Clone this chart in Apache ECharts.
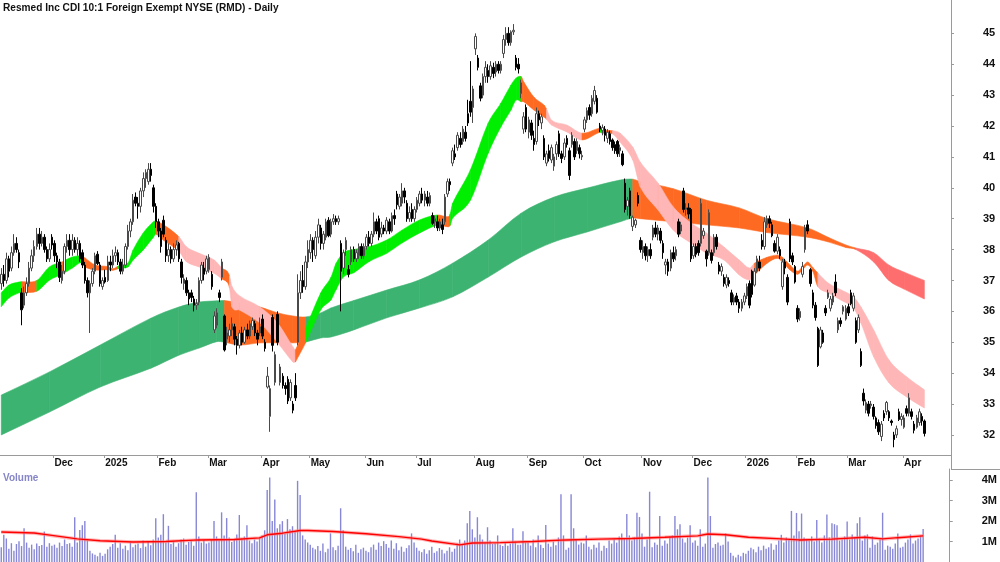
<!DOCTYPE html>
<html>
<head>
<meta charset="utf-8">
<script src="https://cdn.jsdelivr.net/npm/echarts@6/dist/echarts.min.js"></script>
<style>
html,body{margin:0;padding:0;background:#fff;}
#chart{width:1000px;height:562px;}
</style>
</head>
<body>
<div id="chart"></div>
<script>
// ---------- DATA ----------
const titleText = 'Resmed Inc CDI 10:1 Foreign Exempt NYSE (RMD) - Daily';
const monthLabels = ['Nov','Dec','2025','Feb','Mar','Apr','May','Jun','Jul','Aug','Sep','Oct','Nov','Dec','2026','Feb','Mar','Apr'];
const monthDays   = [21,20,21,20,21,19,22,20,23,21,22,23,20,21,20,20,22,9];
const priceTicks  = [32,33,34,35,36,37,38,39,40,41,42,43,44,45];
const volumeTicks = [1,2,3,4];

// daily candles: [open, close, low, high]
const candles = [
// Nov 2024
[36.9,37.2,36.7,37.4],[37.2,37.0,36.8,37.5],[37.0,37.7,36.9,37.9],[37.7,37.3,37.1,37.8],[37.4,37.9,37.3,38.1],
[37.9,38.2,37.8,38.5],[38.2,38.0,37.9,38.4],[37.9,37.6,37.4,38.0],[36.6,36.05,35.55,36.75],[36.2,36.6,36.1,36.8],
[36.6,36.9,36.5,37.1],[36.9,37.4,36.8,37.6],[37.4,37.8,37.3,38.0],[37.8,38.1,37.6,38.3],[38.1,38.5,38.0,38.7],
[38.5,38.2,38.0,38.7],[38.2,38.4,38.1,38.6],[38.4,38.0,37.9,38.5],[38.0,37.7,37.6,38.1],[37.7,38.0,37.6,38.2],
[38.4,38.15,38.0,38.5],
// Dec 2024
[38.2,37.8,37.6,38.3],[37.8,37.6,37.4,37.9],[37.6,37.1,36.95,37.7],[37.0,37.3,36.9,37.5],[37.3,38.1,37.2,38.2],
[38.1,38.3,37.9,38.5],[38.3,38.0,37.8,38.5],[38.0,38.3,37.8,38.5],[38.3,38.0,37.9,38.4],[38.0,38.2,37.8,38.4],
[38.2,37.7,37.6,38.3],[37.9,37.5,37.4,38.0],[37.5,37.0,36.9,37.6],[37.0,36.6,36.45,37.1],[36.6,36.9,35.3,37.0],
[36.9,37.3,36.8,37.4],[37.3,37.8,37.2,37.9],[37.85,37.55,37.5,37.95],[37.5,36.9,36.8,37.6],[36.8,37.0,36.7,37.1],
// Jan 2025
[37.1,36.95,36.9,37.35],[37.0,37.6,36.95,37.8],[37.6,37.5,37.3,37.8],[37.5,37.8,37.4,38.0],[37.8,37.9,37.6,38.1],
[37.9,37.6,37.5,38.0],[37.6,37.3,37.2,37.7],[37.3,37.5,37.2,37.7],[37.5,38.1,37.4,38.2],[38.1,38.6,38.0,38.8],
[38.6,38.9,38.4,39.0],[38.9,39.6,38.8,39.8],[39.7,39.5,39.4,39.85],[39.5,39.4,39.0,39.7],[39.4,39.9,39.2,40.0],
[39.9,40.3,39.7,40.5],[40.3,40.5,40.0,40.6],[40.2,40.6,40.1,40.8],[40.6,40.4,40.2,40.8],[40.0,39.4,39.2,40.1],
[39.4,38.9,38.7,39.5],
// Feb 2025
[38.9,38.6,38.4,39.0],[38.6,38.1,37.9,38.7],[38.95,38.5,38.4,39.1],[38.3,37.8,37.6,38.4],[37.8,38.0,37.6,38.2],
[38.0,37.7,37.55,38.1],[37.7,38.0,37.6,38.2],[38.0,38.15,37.8,38.3],[38.2,37.7,37.6,38.25],[37.6,37.1,36.9,37.7],
[36.9,37.05,36.7,37.2],[37.0,36.6,36.5,37.1],[36.6,36.4,36.2,36.7],[36.6,36.45,36.3,36.7],[36.4,36.2,36.0,36.5],
[36.2,36.25,36.05,36.4],[36.3,37.0,36.2,37.1],[37.0,37.5,36.9,37.6],[37.4,37.2,37.0,37.6],[37.3,37.7,37.2,37.8],
// Mar 2025
[37.35,37.75,37.25,37.85],[37.2,36.8,36.7,37.3],[35.4,35.85,35.3,36.0],[35.55,35.95,35.45,36.1],[36.6,36.45,36.3,36.7],
[37.1,37.6,37.0,37.7],[35.85,34.75,34.7,35.9],[35.1,35.3,34.9,35.5],[35.2,35.4,35.0,35.6],[35.4,35.6,35.2,35.8],
[35.5,35.1,34.9,35.6],[35.1,34.9,34.6,35.2],[34.9,35.3,34.8,35.4],[35.3,35.0,34.9,35.5],[35.0,35.4,34.95,35.5],
[35.4,35.2,35.1,35.6],[35.2,35.6,35.1,35.7],[35.5,35.7,35.4,35.8],[35.6,35.3,35.2,35.7],[35.3,35.1,34.9,35.4],
[35.3,35.5,35.2,35.8],
// Apr 2025
[35.75,35.2,35.1,35.9],[35.0,34.8,34.7,35.1],[33.55,33.9,33.5,34.2],[32.6,33.5,32.1,33.6],[35.8,34.9,34.7,35.9],
[33.7,34.6,33.6,34.7],[35.9,35.0,34.9,36.0],[33.7,34.2,33.6,34.3],[33.9,33.6,33.5,34.0],[33.6,33.5,33.3,33.7],
[33.8,33.1,33.0,33.9],[33.2,33.7,33.1,33.8],[33.0,32.8,32.7,33.1],[33.6,33.2,33.1,34.0],[35.0,36.6,34.9,37.2],
[36.6,37.0,36.4,37.3],[37.0,36.8,36.6,37.5],[36.8,37.6,36.7,37.8],[37.6,38.0,37.4,38.3],
// May 2025
[37.9,38.3,37.7,38.5],[38.3,38.0,37.6,38.4],[37.8,38.4,37.7,38.6],[38.4,38.8,38.2,39.0],[38.7,38.2,38.0,38.8],
[38.2,38.5,38.0,38.6],[38.4,38.9,38.3,39.0],[38.95,38.45,38.4,39.05],[38.5,38.9,38.4,39.0],[38.9,39.0,38.8,39.15],
[39.0,38.9,38.8,39.1],[38.9,39.0,38.8,39.1],[38.2,37.3,36.0,38.3],[37.4,37.9,37.2,38.0],[38.0,38.3,37.8,38.4],
[37.35,37.2,37.1,37.5],[37.6,38.0,37.5,38.1],[38.0,37.7,37.6,38.1],[37.7,37.9,37.6,38.0],[37.8,38.1,37.7,38.2],
[38.1,37.8,37.7,38.2],[37.8,38.1,37.7,38.2],
// Jun 2025
[38.1,38.4,38.0,38.5],[38.4,38.2,38.1,38.6],[38.2,38.5,38.1,38.6],[38.5,38.9,38.4,39.2],[38.9,38.6,38.5,39.0],
[39.0,38.4,38.3,39.1],[38.5,38.7,38.4,38.9],[38.7,38.6,38.5,38.8],[38.6,38.95,38.5,39.05],[38.9,38.6,38.5,39.0],
[38.6,39.1,38.55,39.2],[39.1,39.0,38.8,39.3],[39.8,39.45,39.3,39.9],[39.4,39.7,39.3,39.8],[39.5,39.9,39.4,40.15],
[39.9,39.7,39.5,40.0],[39.5,39.0,38.9,39.6],[39.0,39.2,38.9,39.4],[39.3,39.0,38.9,39.5],[39.0,39.3,38.9,39.4],
// Jul 2025
[39.3,39.6,39.2,39.7],[39.5,39.8,39.4,39.9],[39.8,39.6,39.5,40.0],[39.6,39.8,39.4,39.9],[39.7,39.5,39.4,39.9],
[39.5,39.75,39.4,39.85],[39.1,38.85,38.8,39.2],[38.9,39.0,38.7,39.1],[38.9,38.7,38.6,39.1],[38.7,38.9,38.6,39.0],
[38.8,38.65,38.5,39.0],[38.9,39.7,38.8,39.8],[39.8,40.2,39.7,40.3],[40.2,40.1,39.9,40.3],[40.8,41.2,40.7,41.3],
[41.1,41.0,40.9,41.4],[41.3,41.7,41.2,41.8],[41.6,41.4,41.3,41.8],[41.5,41.9,41.4,42.0],[41.8,41.6,41.5,42.0],
[42.4,42.1,42.0,42.85],[42.8,42.45,42.3,44.1],[42.6,43.2,42.1,43.3],
// Aug 2025
[44.5,44.9,44.3,45.0],[44.2,43.9,43.8,44.3],[43.3,42.9,42.8,43.4],[43.0,43.6,42.9,43.7],[43.6,43.9,43.4,44.1],
[43.8,43.6,43.4,44.0],[43.6,43.95,43.5,44.1],[43.9,43.7,43.55,44.05],[43.75,44.0,43.6,44.1],[44.0,43.8,43.7,44.1],
[43.8,44.0,43.7,44.1],[44.35,44.8,44.2,44.95],[44.8,45.0,44.6,45.2],[45.0,44.7,44.6,45.2],[44.7,45.05,44.6,45.1],
[45.05,45.1,44.95,45.3],[44.2,43.9,43.8,44.3],[44.0,43.85,43.7,44.2],[43.05,43.4,42.9,43.5],[41.9,42.3,41.75,42.45],
[42.6,41.9,41.8,42.7],
// Sep 2025
[41.8,42.2,41.6,42.3],[42.1,41.7,41.55,42.2],[41.6,41.4,41.2,41.85],[41.5,42.4,41.4,42.6],[42.4,42.2,42.0,42.5],
[42.1,42.3,41.9,42.4],[41.6,41.0,40.9,41.7],[40.8,41.1,40.7,41.2],[41.2,40.95,40.85,41.4],[40.9,41.3,40.8,41.4],
[40.7,41.0,40.55,41.1],[41.1,41.4,40.9,41.5],[41.75,41.1,41.0,41.85],[41.1,40.95,40.8,41.2],[41.0,41.45,40.9,41.6],
[41.6,41.4,41.3,41.7],[41.2,40.4,40.25,41.3],[41.4,41.7,41.3,41.8],[41.5,41.0,40.9,41.6],[41.2,41.5,41.1,41.6],
[41.3,41.1,40.95,41.4],[41.0,41.05,40.9,41.2],
// Oct 2025
[41.9,42.2,41.8,42.3],[42.2,42.5,42.1,42.6],[42.6,42.35,42.2,42.7],[42.4,42.9,42.3,43.0],[42.8,43.15,42.7,43.3],
[42.9,42.45,42.4,43.0],[42.0,41.9,41.8,42.1],[41.85,41.95,41.7,42.05],[41.9,41.7,41.5,42.0],[41.6,41.8,41.45,41.9],
[41.75,41.5,41.4,41.85],[41.55,41.3,41.2,41.6],[41.4,41.2,41.1,41.5],[41.5,41.1,41.0,41.55],[41.2,41.3,41.0,41.4],
[41.1,40.75,40.7,41.2],[40.15,39.3,39.2,40.3],[39.4,39.6,39.1,39.7],[39.9,39.1,39.0,40.0],[38.75,39.05,38.6,39.1],
[38.8,38.95,38.7,39.0],[39.75,39.5,39.4,39.85],[38.3,38.0,37.9,38.4],
// Nov 2025
[37.9,38.1,37.7,38.3],[38.1,37.8,37.65,38.2],[37.8,38.0,37.6,38.1],[38.0,37.8,37.7,38.2],[38.4,38.7,38.3,38.8],
[38.7,38.5,38.4,38.9],[38.5,38.7,38.3,38.8],[38.6,38.3,38.2,38.7],[38.2,37.9,37.7,38.3],[37.5,37.6,37.2,37.7],
[37.6,37.3,37.15,37.7],[37.4,37.9,37.3,38.0],[37.9,37.7,37.6,38.1],[37.8,38.0,37.65,38.1],[38.9,38.5,38.4,39.0],
[38.6,38.8,38.5,38.9],[39.9,39.3,39.2,40.0],[39.3,39.35,39.1,39.5],[39.35,39.15,39.0,39.5],[39.3,37.7,37.6,39.35],
// Dec 2025
[37.8,38.1,37.7,38.2],[38.1,37.85,37.75,38.2],[38.2,37.9,37.8,38.3],[38.2,39.5,38.1,39.65],[38.45,38.6,38.35,38.7],
[37.95,37.7,37.45,38.0],[37.9,39.2,37.8,39.3],[37.9,37.65,37.55,38.0],[37.9,38.4,37.8,38.5],[38.4,38.1,38.0,38.5],
[37.5,37.3,37.2,37.6],[37.3,37.45,37.15,37.55],[37.1,36.9,36.8,37.2],[36.85,37.1,36.75,37.2],[37.0,36.9,36.8,37.1],
[36.6,36.3,36.2,36.7],[36.3,36.45,36.2,36.55],[36.5,36.3,36.2,36.6],[36.3,36.1,35.95,36.4],[36.1,36.3,36.0,36.4],
[36.3,36.5,36.2,36.6],
// Jan 2026
[36.5,36.8,36.4,36.9],[36.9,36.2,36.1,37.0],[37.3,36.55,36.45,37.35],[36.85,37.3,36.8,37.4],[37.3,37.7,37.25,37.8],
[37.6,37.4,37.3,37.8],[38.3,38.1,38.0,38.5],[38.1,38.9,38.0,39.05],[38.8,39.0,38.7,39.1],[39.0,38.85,38.7,39.1],
[38.8,38.45,38.4,38.9],[38.2,37.95,37.9,38.3],[37.95,38.4,37.85,38.5],[38.0,37.8,37.7,38.1],[36.8,37.6,36.7,37.7],
[37.6,37.4,37.2,37.7],[37.1,36.3,36.2,37.2],[38.9,37.7,37.6,39.0],[37.8,37.6,37.5,37.9],[37.45,36.95,36.9,37.5],
// Feb 2026
[36.1,35.75,35.65,36.2],[35.8,36.0,35.7,36.1],[37.2,37.45,37.1,37.6],[38.0,38.7,37.9,38.8],[38.8,38.6,38.5,38.95],
[37.35,36.9,36.8,37.4],[36.6,36.2,36.1,36.7],[36.2,35.8,35.7,36.3],[35.45,34.25,34.2,35.5],[34.85,35.4,34.8,35.5],
[35.3,35.0,34.95,35.4],[36.1,35.95,35.85,36.2],[36.45,36.6,36.4,36.7],[36.1,36.4,36.0,36.5],[36.3,36.5,36.2,36.6],
[36.95,36.6,36.5,37.2],[35.4,35.7,35.3,35.8],[35.7,35.6,35.5,35.8],[36.0,36.15,35.9,36.2],[35.75,36.1,35.7,36.2],
// Mar 2026
[36.15,35.95,35.85,36.25],[36.6,36.25,36.2,36.7],[36.1,36.5,36.0,36.6],[35.7,35.0,34.95,35.8],[35.4,35.8,35.3,35.9],
[34.7,34.25,34.2,34.8],[33.35,33.1,32.95,33.5],[32.8,33.05,32.7,33.15],[33.0,32.7,32.6,33.1],[32.95,33.0,32.85,33.1],
[32.9,32.6,32.5,33.0],[32.55,32.3,32.2,32.6],[32.4,32.1,32.0,32.5],[31.95,32.35,31.8,32.45],[32.7,32.55,32.45,32.8],
[32.75,33.05,32.65,33.1],[32.75,32.55,32.45,32.8],[32.45,32.4,32.3,32.5],[32.0,31.85,31.6,32.1],[32.0,32.2,31.9,32.3],
[32.75,32.5,32.45,32.85],[32.5,32.6,32.3,32.7],
// Apr 2026
[32.25,32.55,32.2,32.65],[32.85,32.7,32.6,32.95],[32.7,33.2,32.6,33.35],[32.75,32.6,32.5,32.85],[32.35,32.15,32.05,32.45],
[32.25,32.55,32.2,32.65],[32.4,32.75,32.3,32.85],[32.6,32.45,32.3,32.7],[32.45,32.05,31.95,32.5]
];

// daily volume, millions
const volumes = [
0.72,1.33,1.15,0.65,0.92,0.55,0.88,1.02,0.78,1.65,0.95,0.70,0.85,0.62,0.90,0.78,0.83,1.49,0.75,0.92,0.80,
0.85,0.70,0.95,0.78,1.10,0.88,0.92,0.75,2.19,0.95,1.56,1.80,2.00,1.05,0.55,0.42,0.35,0.28,0.45,0.30,
0.40,0.62,0.75,0.88,1.33,0.70,0.92,0.65,0.80,0.58,0.95,0.72,0.85,0.90,0.68,1.05,0.75,0.98,0.82,1.10,2.14,
1.20,1.33,2.34,0.95,1.77,0.88,1.02,0.75,0.92,1.10,1.15,0.85,0.98,1.05,0.80,3.41,1.25,0.95,1.08,0.90,
0.95,1.10,2.01,1.25,1.05,2.43,1.30,2.15,1.20,0.98,1.10,1.35,2.30,1.15,1.25,1.80,1.05,0.92,1.10,1.00,1.20,
1.30,1.55,3.52,4.14,2.00,3.06,1.65,1.85,2.00,1.40,2.10,1.60,1.75,1.50,3.97,3.28,1.30,1.10,0.95,
0.85,0.70,0.62,0.78,0.55,0.90,0.48,0.65,1.40,0.72,0.58,0.80,2.63,1.55,0.75,0.60,0.68,0.52,0.85,0.45,0.62,0.70,
0.55,0.48,0.72,0.85,0.60,0.95,0.78,1.02,0.88,0.70,1.05,0.65,0.92,0.58,0.75,0.50,0.68,0.82,1.40,0.95,
0.70,0.55,0.48,0.62,0.40,0.58,0.75,0.45,0.52,0.68,0.60,0.42,0.55,0.72,0.50,0.65,0.92,1.10,0.85,1.05,1.90,2.50,1.60,
1.20,2.19,1.35,1.10,0.95,1.70,1.05,0.88,0.92,1.30,0.85,0.78,0.95,0.80,0.90,1.65,1.00,0.85,0.85,1.50,0.95,
0.95,0.80,1.10,0.72,1.30,0.85,0.68,1.81,0.90,0.75,1.00,0.82,1.20,3.31,1.30,0.60,0.70,3.31,1.65,1.10,0.85,0.95,
0.90,1.30,0.75,0.62,0.85,0.70,0.95,0.55,0.80,0.68,1.05,0.90,1.10,0.95,1.25,1.40,1.15,2.35,1.30,1.05,1.20,2.41,2.20,
1.40,0.75,1.10,3.44,0.72,0.95,0.85,2.25,0.80,1.05,0.90,1.25,1.30,2.25,1.60,1.85,1.15,0.95,1.20,1.80,
0.95,1.05,0.80,1.60,0.75,0.90,4.14,2.25,0.70,0.88,0.95,0.80,0.85,1.40,1.00,0.45,0.30,0.22,0.35,0.28,0.45,
0.40,0.55,0.70,0.62,0.48,0.75,0.58,0.80,0.65,0.72,0.90,0.60,0.85,1.05,1.33,0.95,1.20,1.10,2.50,1.30,
2.40,1.50,2.37,1.20,1.10,1.05,1.25,1.00,2.06,1.15,0.95,1.30,2.33,1.20,1.90,1.85,1.80,1.05,1.10,1.25,
1.98,1.10,1.35,1.20,1.90,2.19,1.05,1.30,1.35,0.70,1.25,0.85,0.95,1.10,2.41,0.60,0.80,0.75,0.65,0.90,1.40,0.70,
0.75,0.95,1.10,1.35,0.90,1.05,1.15,1.30,1.62
];

// volume moving average, read at [day index, millions]
const volumeMA = [
[0,1.47],[13,1.42],[20,1.30],[30,1.13],[39,1.04],[52,0.98],[65,1.00],[78,1.08],[92,1.10],[102,1.18],
[105,1.33],[111,1.41],[118,1.54],[121,1.54],[131,1.49],[144,1.38],[157,1.24],[166,1.12],[170,1.03],
[181,0.84],[186,0.93],[197,0.95],[210,1.00],[223,1.08],[236,1.12],[249,1.15],[262,1.21],[275,1.28],
[279,1.37],[286,1.33],[295,1.21],[308,1.13],[315,1.08],[328,1.12],[341,1.21],[348,1.13],[354,1.19],[364,1.28]
];

// slow trend ribbon: [day index, lower, upper, state]  G=rising O=flat R=falling
const slowRibbon = [
[0,32.00,33.29,'G'],[19,32.74,34.04,'G'],[39,33.55,34.91,'G'],[59,34.16,35.78,'G'],[70,34.58,36.14,'G'],
[78,34.81,36.30,'G'],[85,35.02,36.34,'G'],[88,35.00,36.35,'O'],[94,34.91,36.27,'O'],[102,34.98,36.14,'O'],
[109,34.98,35.95,'O'],[115,34.98,35.85,'O'],[120,35.01,35.82,'G'],[126,35.14,35.95,'G'],[130,35.17,36.11,'G'],
[139,35.40,36.35,'G'],[152,35.79,36.69,'G'],[165,36.11,37.02,'G'],[178,36.47,37.56,'G'],[192,37.11,38.31,'G'],
[205,37.76,39.18,'G'],[218,38.25,39.70,'G'],[231,38.57,39.99,'G'],[244,38.90,40.25,'G'],[249,39.02,40.28,'O'],
[252,39.00,40.20,'O'],[265,38.90,39.97,'O'],[278,38.80,39.60,'O'],[291,38.70,39.35,'O'],[302,38.55,39.00,'O'],
[318,38.40,38.70,'O'],[326,38.25,38.40,'O'],[333,38.07,38.15,'O'],[337,38.00,38.05,'R'],[344,37.60,37.90,'R'],
[350,37.00,37.50,'R'],[356,36.72,37.27,'R'],[364,36.40,37.00,'R']
];

// fast trend ribbon: [day index, lower, upper, state]  g=rising o=flat p=falling ; 5th item 1 = sharp corner
const fastRibbon = [
[0,36.15,36.60,'g'],[3,36.43,36.85,'g'],[7,36.60,36.95,'g'],[8,36.62,36.96,'o'],[14,36.65,37.00,'g'],
[19,37.01,37.44,'g'],[24,37.20,37.60,'o'],[25,37.25,37.65,'g'],[28,37.40,37.76,'g'],[31,37.57,37.80,'g'],
[32,37.55,37.78,'o'],[33,37.44,37.73,'o'],[37,37.34,37.50,'o'],[42,37.35,37.45,'o'],[44,37.33,37.38,'o'],
[46,37.38,37.46,'g'],[47,37.40,37.50,'g'],[50,37.44,37.57,'g'],[52,37.66,37.99,'g'],[56,37.99,38.54,'g'],
[60,38.40,38.90,'g'],[61,38.50,38.92,'o'],[64,38.30,38.80,'o'],[70,37.95,38.42,'p'],[73,37.61,38.09,'p'],
[78,37.44,37.88,'p'],[84,37.23,37.66,'p'],[87,37.05,37.40,'o'],[89,36.95,37.30,'o'],[90,36.75,37.15,'p'],
[91,36.14,36.80,'p'],[94,36.04,36.50,'p'],[102,35.62,36.14,'p'],[109,34.98,35.62,'p'],[115,34.36,34.85,'p'],
[116,34.36,34.75,'o',1],[120,34.98,35.45,'g'],[126,36.05,36.60,'g'],[130,36.37,37.10,'g'],[132,36.70,37.55,'g'],
[135,37.12,37.90,'g'],[139,37.25,38.00,'g'],[145,37.61,38.09,'g'],[152,37.88,38.31,'g'],[158,38.21,38.63,'g'],
[165,38.54,38.96,'g'],[172,38.79,39.12,'o'],[176,38.74,39.06,'o'],[177,38.78,39.15,'g'],[178,39.02,39.50,'g'],
[185,39.60,40.58,'g'],[192,41.12,42.09,'g'],[197,41.97,42.74,'g'],[201,42.52,43.33,'g'],[203,42.84,43.55,'g'],
[205,42.79,43.60,'o'],[206,42.79,43.43,'o'],[210,42.52,42.94,'o'],[214,42.29,42.68,'o'],[215,42.22,42.55,'p'],
[217,42.03,42.19,'p'],[223,41.81,42.03,'p'],[229,41.55,41.77,'o'],[236,41.80,41.93,'g'],[237,41.77,41.87,'o'],
[241,41.75,41.85,'p'],[244,41.48,41.77,'p'],[249,40.90,41.32,'p'],[252,40.03,40.83,'p'],[259,39.28,40.15,'p'],
[265,38.63,39.38,'p'],[272,38.21,38.86,'p'],[278,37.89,38.54,'p'],[285,37.66,38.08,'p'],[291,37.18,37.66,'p'],
[295,37.02,37.40,'p'],[297,37.18,37.56,'o'],[302,37.56,37.75,'o'],[306,37.72,37.82,'o'],[308,37.60,37.75,'o'],
[311,37.34,37.50,'o'],[314,37.20,37.30,'o'],[316,37.35,37.45,'o'],[318,37.50,37.60,'o'],[320,37.30,37.42,'o'],
[322,36.80,37.24,'p'],[326,36.60,36.92,'p'],[331,36.37,36.70,'p'],[336,36.11,36.47,'p'],[339,35.62,36.14,'p'],
[344,34.53,35.40,'p'],[350,33.69,34.43,'p'],[357,33.23,33.88,'p'],[364,32.87,33.46,'p']
];

// ---------- STYLE ----------
const ribbonColors = {
  G:'#3cb371', O:'#ff6a22', R:'#ff6e6e',
  g:'#00ee00', o:'#ff6a22', p:'#ffb6b6'
};
const FONT = '"Liberation Sans", Arial, sans-serif';
const PAD_DAYS = 10;

// ---------- BUILD ----------
const categories = [];
monthLabels.forEach((m, mi) => {
  for (let d = 0; d < monthDays[mi]; d++) categories.push('m' + mi + 'd' + d);
});
for (let k = 0; k < PAD_DAYS; k++) categories.push('x' + k);

function isMonthStart(index, value) {
  const m = /^m(\d+)d0$/.exec(value);
  return !!m && +m[1] > 0;
}
function monthName(value) {
  const m = /^m(\d+)d0$/.exec(value);
  return m ? monthLabels[+m[1]] : '';
}

// ribbon drawn through its read points with smooth (Hermite) edges
function ribbonSeries(samples, z) {
  const segs = [];
  for (let k = 0; k < samples.length - 1; k++) {
    segs.push([samples[k][0], samples[k][1], samples[k][2], samples[k + 1][0], samples[k + 1][1], samples[k + 1][2], k]);
  }
  return {
    type: 'custom', xAxisIndex: 0, yAxisIndex: 0, z: z, silent: true, clip: true,
    encode: { x: [0, 3], y: [1, 2, 4, 5] },
    data: segs,
    renderItem: function (params, api) {
      const k = params.dataIndex;
      const n = samples.length;
      const lo = [], hi = [];
      const from = Math.max(0, k - 1), to = Math.min(n - 1, k + 2);
      for (let j = from; j <= to; j++) {
        lo[j] = api.coord([samples[j][0], samples[j][1]]);
        hi[j] = api.coord([samples[j][0], samples[j][2]]);
      }
      function localSlopes(P, j) {
        const left = (j > 0 && P[j - 1]) ? (P[j][1] - P[j - 1][1]) / (P[j][0] - P[j - 1][0]) : null;
        const right = (j < n - 1 && P[j + 1]) ? (P[j + 1][1] - P[j][1]) / (P[j + 1][0] - P[j][0]) : null;
        if (left === null) return [right, right];
        if (right === null) return [left, left];
        if (samples[j][4]) return [left, right];
        const c = (P[j + 1][1] - P[j - 1][1]) / (P[j + 1][0] - P[j - 1][0]);
        return [c, c];
      }
      function curve(P, a, b) {
        const dx = P[b][0] - P[a][0];
        const ma = localSlopes(P, a)[1];
        const mb = localSlopes(P, b)[0];
        return [P[a][0] + dx / 3, P[a][1] + ma * dx / 3, P[b][0] - dx / 3, P[b][1] - mb * dx / 3, P[b][0], P[b][1]];
      }
      const t = curve(hi, k, k + 1);
      const bf = curve(lo, k, k + 1);
      const d = 'M' + hi[k][0] + ' ' + hi[k][1] +
        ' C' + t.join(' ') +
        ' L' + lo[k + 1][0] + ' ' + lo[k + 1][1] +
        ' C' + bf[2] + ' ' + bf[3] + ' ' + bf[0] + ' ' + bf[1] + ' ' + lo[k][0] + ' ' + lo[k][1] + ' Z';
      const c = ribbonColors[samples[k][3]];
      return {
        type: 'path',
        shape: { pathData: d },
        style: { fill: c, stroke: c, lineWidth: 0.6 }
      };
    }
  };
}

const chart = echarts.init(document.getElementById('chart'), null, { renderer: 'canvas' });
chart.setOption({
  animation: false,
  backgroundColor: '#ffffff',
  title: [
    { text: 'Volume', left: 3, top: 473, padding: 0,
      textStyle: { fontFamily: FONT, fontSize: 10, fontWeight: 'bold', color: '#8585c8' } }
  ],
  grid: [
    { left: 0, right: 49, top: 0, height: 455 },
    { left: 0, right: 49, top: 469, height: 93 }
  ],
  xAxis: [
    { type: 'category', gridIndex: 0, data: categories, boundaryGap: true,
      axisLine: { lineStyle: { color: '#9a9a9a', width: 1 } },
      axisTick: { show: true, interval: isMonthStart, length: 3, lineStyle: { color: '#9a9a9a' } },
      axisLabel: { interval: isMonthStart, formatter: monthName, align: 'left', margin: 3,
        fontFamily: FONT, fontSize: 10, fontWeight: 'bold', color: '#111' },
      splitLine: { show: false } },
    { type: 'category', gridIndex: 1, data: categories, boundaryGap: true, position: 'top',
      axisLine: { lineStyle: { color: '#9a9a9a', width: 1 } },
      axisTick: { show: false }, axisLabel: { show: false }, splitLine: { show: false } }
  ],
  yAxis: [
    { type: 'value', gridIndex: 0, position: 'right', min: 31.35, max: 46.08,
      axisLine: { show: true, lineStyle: { color: '#9a9a9a' } },
      axisTick: { show: true, length: 3, customValues: priceTicks, lineStyle: { color: '#9a9a9a' } },
      axisLabel: { customValues: priceTicks, margin: 32, fontFamily: FONT, fontSize: 11,
        fontWeight: 'bold', color: '#111' },
      splitLine: { show: false } },
    { type: 'value', gridIndex: 1, position: 'right', min: 0, max: 4.55,
      axisLine: { show: true, lineStyle: { color: '#9a9a9a' } },
      axisTick: { show: true, length: 3, customValues: volumeTicks, lineStyle: { color: '#9a9a9a' } },
      axisLabel: { customValues: volumeTicks, margin: 32, formatter: v => v + 'M',
        fontFamily: FONT, fontSize: 11, fontWeight: 'bold', color: '#111' },
      splitLine: { show: false } }
  ],
  graphic: [
    { type: 'text', x: 3, y: 2, scaleX: 0.92, silent: true,
      style: { text: titleText, fontFamily: FONT, fontSize: 11, fontWeight: 'bold', fill: '#111',
        align: 'left', verticalAlign: 'top' } },
    { type: 'line', silent: true, shape: { x1: 951.5, y1: 455, x2: 951.5, y2: 469 },
      style: { stroke: '#9a9a9a', lineWidth: 1 } },
    { type: 'line', silent: true, shape: { x1: 951, y1: 469.5, x2: 1000, y2: 469.5 },
      style: { stroke: '#9a9a9a', lineWidth: 1 } }
  ],
  series: [
    ribbonSeries(slowRibbon, 1),
    ribbonSeries(fastRibbon, 2),
    { type: 'candlestick', xAxisIndex: 0, yAxisIndex: 0, z: 3, data: candles,
      barWidth: 2,
      itemStyle: { color: '#ffffff', color0: '#000000', borderColor: '#4a4a4a',
        borderColor0: '#000000', borderWidth: 1 } },
    { type: 'bar', xAxisIndex: 1, yAxisIndex: 1, data: volumes, barWidth: 1.4,
      itemStyle: { color: '#8787d6' }, silent: true },
    { type: 'line', xAxisIndex: 1, yAxisIndex: 1, data: volumeMA, showSymbol: false,
      smooth: false, silent: true, lineStyle: { color: 'rgba(255,120,120,0.55)', width: 3.5 }, z: 4 },
    { type: 'line', xAxisIndex: 1, yAxisIndex: 1, data: volumeMA, showSymbol: false,
      smooth: false, silent: true, lineStyle: { color: '#ff0000', width: 1.4 }, z: 5 }
  ]
});
</script>
</body>
</html>
